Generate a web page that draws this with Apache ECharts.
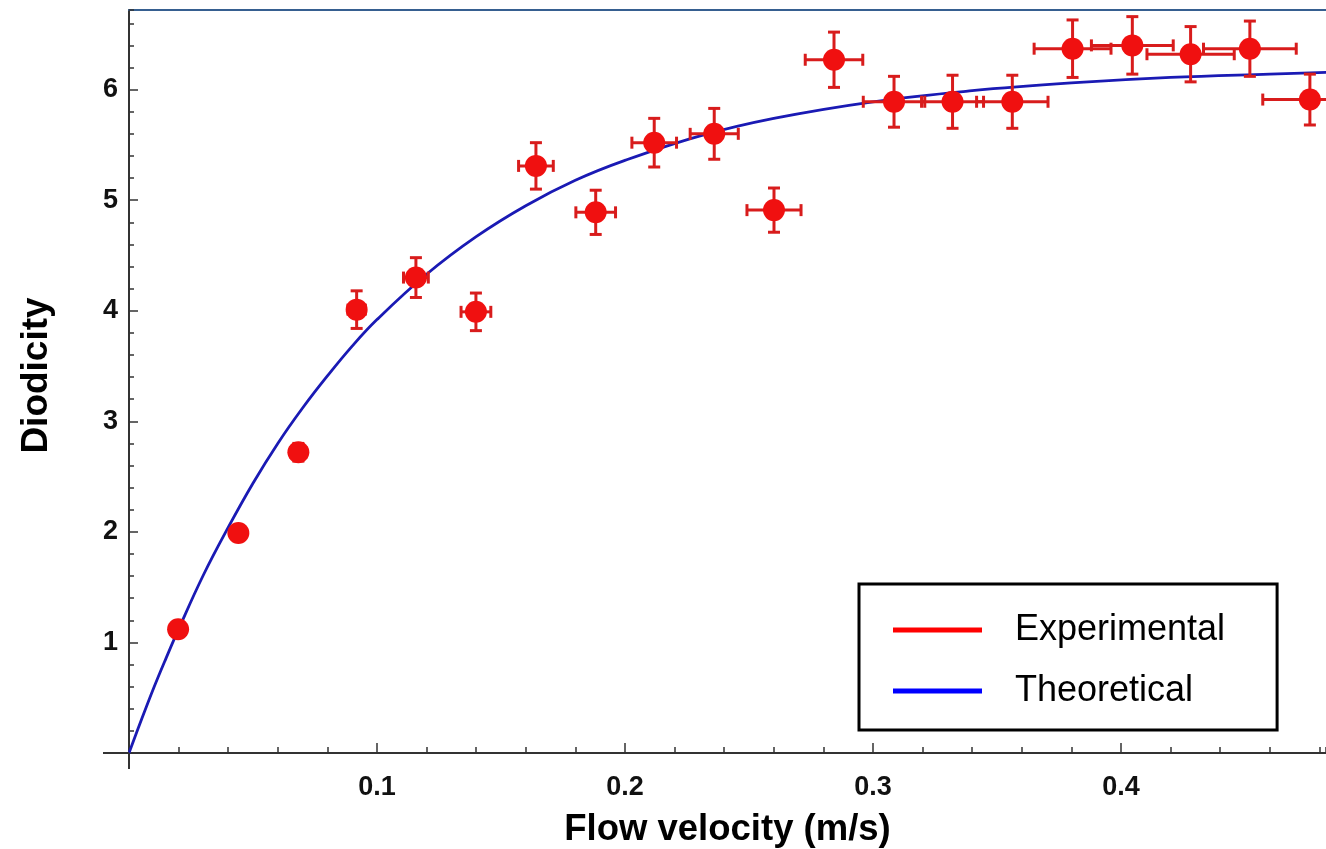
<!DOCTYPE html>
<html>
<head>
<meta charset="utf-8">
<script src="https://cdn.jsdelivr.net/npm/echarts@6/dist/echarts.min.js"></script>
<style>
  html, body { margin: 0; padding: 0; background: #ffffff; }
  #chart { width: 1326px; height: 849px; }
</style>
</head>
<body>
<div id="chart"></div>
<script>
// Measured diodicity versus flow velocity, with uncertainties
const velocity = [0.0198, 0.0441, 0.0683, 0.0918, 0.1157, 0.1399, 0.1641, 0.1882, 0.2118, 0.2360,
                  0.2601, 0.2843, 0.3085, 0.3321, 0.3562, 0.3805, 0.4046, 0.4281, 0.4520, 0.4762];
const diodicity = [1.12, 1.99, 2.72, 4.01, 4.30, 3.99, 5.31, 4.89, 5.52, 5.60,
                   4.91, 6.27, 5.89, 5.89, 5.89, 6.37, 6.40, 6.32, 6.37, 5.91];
const velocityErr = [0.001, 0.002, 0.003, 0.0035, 0.005, 0.006, 0.007, 0.008, 0.009, 0.0097,
                     0.0109, 0.0116, 0.0124, 0.0125, 0.0144, 0.0155, 0.0165, 0.0176, 0.0187, 0.019];
const diodicityErr = [0.04, 0.06, 0.08, 0.17, 0.18, 0.17, 0.21, 0.20, 0.22, 0.23,
                      0.20, 0.25, 0.23, 0.24, 0.24, 0.26, 0.26, 0.25, 0.25, 0.23];

// Theoretical curve, sampled
const curveVelocity = [0, 0.005, 0.01, 0.015, 0.02, 0.03, 0.04, 0.05, 0.06, 0.07, 0.08, 0.09, 0.10,
                       0.12, 0.14, 0.16, 0.18, 0.20, 0.23, 0.26, 0.30, 0.34, 0.38, 0.42, 0.46, 0.49];
const curveDiodicity = [0, 0.30, 0.59, 0.86, 1.12, 1.61, 2.04, 2.44, 2.80, 3.12, 3.41, 3.68, 3.92,
                        4.33, 4.67, 4.95, 5.18, 5.36, 5.58, 5.74, 5.89, 5.99, 6.06, 6.11, 6.14, 6.16];

// Axis ranges and tick spacing
const X_MAX = 0.4827;
const Y_MAX = 6.72;
const X_MAJOR = 0.1, X_MINOR = 0.02;
const Y_MAJOR = 1, Y_MINOR = 0.2;

const seriesNames = ['Experimental', 'Theoretical'];

const FONT = '"Liberation Sans", Arial, sans-serif';
const AXIS_COLOR = '#333333';
const POINT_COLOR = '#f01010';
const BAR_COLOR = '#d81c1c';
const CURVE_COLOR = '#1a1ab4';

const points = velocity.map((v, i) => [v, diodicity[i]]);
const errorData = velocity.map((v, i) => [v, diodicity[i], velocityErr[i], diodicityErr[i]]);
const curve = curveVelocity.map((v, i) => [v, curveDiodicity[i]]);

function renderErrorBar(params, api) {
  const x = api.value(0), y = api.value(1), ex = api.value(2), ey = api.value(3);
  const left = api.coord([x - ex, y]);
  const right = api.coord([x + ex, y]);
  const top = api.coord([x, y + ey]);
  const bottom = api.coord([x, y - ey]);
  const cap = 6;
  const style = { stroke: BAR_COLOR, lineWidth: 3 };
  const seg = (x1, y1, x2, y2) => ({ type: 'line', shape: { x1, y1, x2, y2 }, style });
  return {
    type: 'group',
    children: [
      seg(left[0], left[1], right[0], right[1]),
      seg(top[0], top[1], bottom[0], bottom[1]),
      seg(left[0], left[1] - cap, left[0], left[1] + cap),
      seg(right[0], right[1] - cap, right[0], right[1] + cap),
      seg(top[0] - cap, top[1], top[0] + cap, top[1]),
      seg(bottom[0] - cap, bottom[1], bottom[0] + cap, bottom[1])
    ]
  };
}

const chart = echarts.init(document.getElementById('chart'), null, { renderer: 'canvas' });

const tickLabel = { fontSize: 27, fontWeight: 'bold', color: '#111111', fontFamily: FONT };
const nameStyle = { fontSize: 36.5, fontWeight: 'bold', color: '#000000', fontFamily: FONT };

chart.setOption({
  animation: false,
  backgroundColor: '#ffffff',
  grid: { left: 129, right: 0, top: 10, bottom: 96, containLabel: false, outerBoundsMode: 'none' },
  legend: {
    orient: 'vertical',
    left: 859,
    top: 584,
    padding: [26, 52, 19, 34],
    itemWidth: 89,
    itemHeight: 5,
    itemGap: 21,
    icon: 'rect',
    borderColor: '#000000',
    borderWidth: 3,
    backgroundColor: '#ffffff',
    selectedMode: false,
    textStyle: { fontSize: 36, fontFamily: FONT, color: '#000000', lineHeight: 40, padding: [0, 0, 0, 28] },
    data: [
      { name: seriesNames[0], itemStyle: { color: '#ff0000', opacity: 1 } },
      { name: seriesNames[1], itemStyle: { color: '#0000ff', opacity: 1 } }
    ]
  },
  xAxis: [
    {
      type: 'value', min: 0, max: X_MAX, interval: X_MAJOR, position: 'bottom',
      name: 'Flow velocity (m/s)', nameLocation: 'middle', nameGap: 58, nameTextStyle: nameStyle,
      axisLine: { show: true, onZero: false, lineStyle: { color: AXIS_COLOR, width: 2 } },
      axisTick: { show: true, inside: true, length: 10, lineStyle: { color: AXIS_COLOR, width: 1.5 } },
      axisLabel: Object.assign({ margin: 21, showMinLabel: false, showMaxLabel: false,
        formatter: v => v.toFixed(1) }, tickLabel),
      splitLine: { show: false }
    },
    {
      type: 'value', min: 0, max: X_MAX, interval: X_MINOR, position: 'bottom',
      axisLine: { show: false, onZero: false },
      axisTick: { show: true, inside: true, length: 6, lineStyle: { color: AXIS_COLOR, width: 1.5 } },
      axisLabel: { show: false },
      splitLine: { show: false }
    },
    {
      type: 'value', min: 0, max: X_MAX, position: 'top',
      axisLine: { show: true, onZero: false, lineStyle: { color: '#365f90', width: 2 } },
      axisTick: { show: false },
      axisLabel: { show: false },
      splitLine: { show: false }
    }
  ],
  yAxis: [
    {
      type: 'value', min: 0, max: Y_MAX, interval: Y_MAJOR, position: 'left',
      name: 'Diodicity', nameLocation: 'middle', nameGap: 74,
      nameTextStyle: Object.assign({}, nameStyle, { fontSize: 37, padding: [0, 0, 0, 12] }),
      axisLine: { show: true, onZero: false, lineStyle: { color: AXIS_COLOR, width: 2 } },
      axisTick: { show: true, inside: true, length: 9, lineStyle: { color: AXIS_COLOR, width: 1.5 } },
      axisLabel: Object.assign({ margin: 11, showMinLabel: false, showMaxLabel: false }, tickLabel),
      splitLine: { show: false }
    },
    {
      type: 'value', min: 0, max: Y_MAX, interval: Y_MINOR, position: 'left',
      axisLine: { show: false, onZero: false },
      axisTick: { show: true, inside: true, length: 5, lineStyle: { color: AXIS_COLOR, width: 1.5 } },
      axisLabel: { show: false },
      splitLine: { show: false }
    }
  ],
  series: [
    {
      name: seriesNames[1],
      type: 'line',
      xAxisIndex: 0, yAxisIndex: 0,
      data: curve,
      smooth: 0.4,
      showSymbol: false,
      clip: true,
      z: 2,
      lineStyle: { color: CURVE_COLOR, width: 2.8 },
      itemStyle: { color: CURVE_COLOR }
    },
    {
      type: 'custom',
      xAxisIndex: 0, yAxisIndex: 0,
      data: errorData,
      encode: { x: 0, y: 1 },
      renderItem: renderErrorBar,
      clip: true,
      z: 3
    },
    {
      name: seriesNames[0],
      type: 'scatter',
      xAxisIndex: 0, yAxisIndex: 0,
      data: points,
      symbol: 'circle',
      symbolSize: 22,
      clip: false,
      z: 4,
      itemStyle: { color: POINT_COLOR, opacity: 1 }
    }
  ]
});

// Axis lines run a little past the origin, crossing each other
const origin = chart.convertToPixel({ gridIndex: 0 }, [0, 0]);
chart.setOption({
  graphic: [
    { type: 'line', shape: { x1: origin[0] - 26, y1: origin[1], x2: origin[0], y2: origin[1] },
      style: { stroke: AXIS_COLOR, lineWidth: 2 }, z: 10 },
    { type: 'line', shape: { x1: origin[0], y1: origin[1], x2: origin[0], y2: origin[1] + 16 },
      style: { stroke: AXIS_COLOR, lineWidth: 2 }, z: 10 }
  ]
});
</script>
</body>
</html>
